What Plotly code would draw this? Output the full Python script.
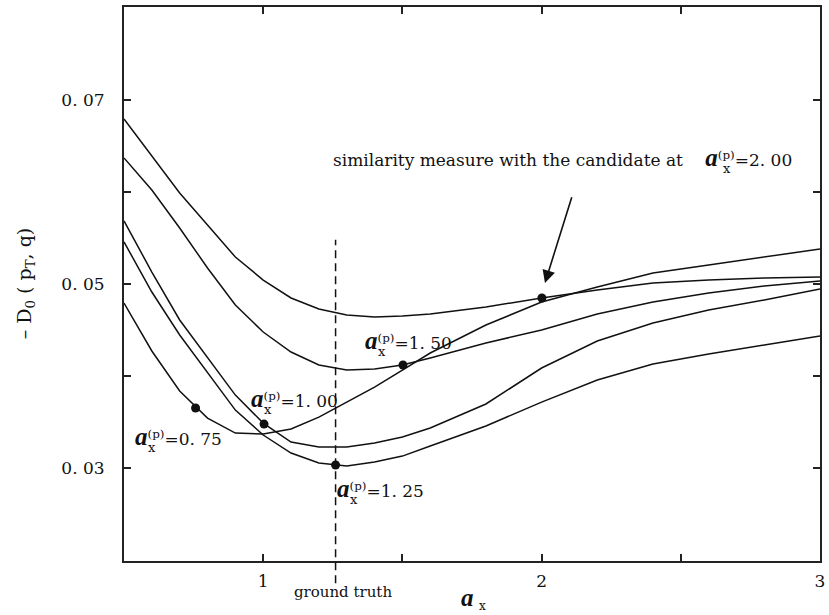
import plotly.graph_objects as go

# ---------------- data ----------------
a_x = [0.5, 0.6, 0.7, 0.8, 0.9, 1.0, 1.1, 1.2, 1.3, 1.4, 1.5, 1.6, 1.8, 2.0, 2.2, 2.4, 2.6, 2.8, 3.0]

d_075 = [0.04793, 0.04272, 0.03837, 0.03543, 0.03380, 0.03370, 0.03424, 0.03554, 0.03717, 0.03880,
         0.04065, 0.04250, 0.04554, 0.04804, 0.04967, 0.05120, 0.05207, 0.05293, 0.05380]
d_100 = [0.05685, 0.05130, 0.04609, 0.04207, 0.03793, 0.03489, 0.03283, 0.03228, 0.03228, 0.03272,
         0.03337, 0.03435, 0.03696, 0.04087, 0.04380, 0.04576, 0.04717, 0.04826, 0.04946]
d_125 = [0.05457, 0.04913, 0.04446, 0.04033, 0.03630, 0.03359, 0.03163, 0.03054, 0.03022, 0.03065,
         0.03130, 0.03239, 0.03457, 0.03717, 0.03957, 0.04130, 0.04239, 0.04337, 0.04435]
d_150 = [0.06370, 0.06022, 0.05609, 0.05174, 0.04772, 0.04478, 0.04261, 0.04120, 0.04065, 0.04076,
         0.04120, 0.04196, 0.04359, 0.04500, 0.04674, 0.04804, 0.04902, 0.04978, 0.05033]
d_200 = [0.06793, 0.06391, 0.05989, 0.05641, 0.05293, 0.05043, 0.04848, 0.04728, 0.04663, 0.04641,
         0.04652, 0.04674, 0.04750, 0.04848, 0.04935, 0.05011, 0.05043, 0.05065, 0.05076]

candidates = ["0. 75", "1. 00", "1. 25", "1. 50", "2. 00"]
dot_x = [0.757, 1.003, 1.26, 1.502, 2.001]
dot_y = [0.03652, 0.03478, 0.03033, 0.04120, 0.04848]

ground_truth_x = 1.26

x_tickvals = [1, 1.5, 2, 2.5, 3]
x_ticktext = ["1", "", "2", "", "3"]
y_tickvals = [0.03, 0.04, 0.05, 0.06, 0.07]
y_ticktext = ["0. 03", "", "0. 05", "", "0. 07"]

# ---------------- figure ----------------
SERIF = "DejaVu Serif"
INK = "#111111"
A_SPAN = "<span style='font-family:Liberation Serif;font-size:25px'><b><i>a</i></b></span>"

fig = go.Figure()
for ys in [d_075, d_100, d_125, d_150, d_200]:
    fig.add_trace(go.Scatter(x=a_x, y=ys, mode="lines",
                             line=dict(color=INK, width=1.5), showlegend=False,
                             hoverinfo="skip"))

fig.add_trace(go.Scatter(x=dot_x, y=dot_y, mode="markers",
                         marker=dict(color=INK, size=9), showlegend=False,
                         cliponaxis=False))

annos = []


def add_label(lx, ly, val, prefix="", a_offset=0):
    # main text: [prefix] a^(p)=val ; subscript x added as separate stacked text
    annos.append(dict(x=lx, y=ly, xref="x", yref="y",
                      text=prefix + A_SPAN + "<sup>(p)</sup>=" + val, showarrow=False,
                      xanchor="left", yanchor="middle",
                      font=dict(family=SERIF, size=17, color=INK)))
    annos.append(dict(x=lx, y=ly, xref="x", yref="y", text="x", showarrow=False,
                      xanchor="left", yanchor="middle", xshift=a_offset + 13, yshift=-11,
                      font=dict(family=SERIF, size=13, color=INK)))


label_pos = [  # (x, y) of left edge / vertical centre of each label
    (0.532, 0.03348),
    (0.949, 0.03761),
    (1.258, 0.02783),
    (1.359, 0.04391),
]
for (lx, ly), val in zip(label_pos, candidates[:4]):
    add_label(lx, ly, val)

add_label(1.242, 0.0637, candidates[4],
          prefix="similarity measure with the candidate at\u2002\u2002 ", a_offset=377)

annos.append(dict(x=2.012, y=0.0501, xref="x", yref="y", ax=2.110, ay=0.0596,
                  axref="x", ayref="y", text="", showarrow=True,
                  arrowhead=2, arrowsize=1.6, arrowwidth=1.6, arrowcolor=INK))

annos.append(dict(x=ground_truth_x + 0.028, y=-0.056, xref="x", yref="paper",
                  text="ground truth", showarrow=False, xanchor="center", yanchor="middle",
                  font=dict(family=SERIF, size=15, color=INK)))

annos.append(dict(x=1.734, y=-0.066, xref="x", yref="paper", text=A_SPAN,
                  showarrow=False, xanchor="center", yanchor="middle",
                  font=dict(family=SERIF, size=17, color=INK)))
annos.append(dict(x=1.734, y=-0.066, xref="x", yref="paper", text="x",
                  showarrow=False, xanchor="left", yanchor="middle", xshift=9, yshift=-8,
                  font=dict(family=SERIF, size=12, color=INK)))

annos.append(dict(x=-0.142, y=0.5, xref="paper", yref="paper", textangle=-90,
                  text="\u2013 D<sub>0</sub> ( p<sub>T</sub>, q)",
                  showarrow=False, xanchor="center", yanchor="middle",
                  font=dict(family=SERIF, size=19, color=INK)))

fig.add_shape(type="line", xref="x", yref="paper",
              x0=ground_truth_x, x1=ground_truth_x, y0=-0.040, y1=0.580,
              line=dict(color=INK, width=1.5, dash="8px,5px"))

axis_common = dict(showline=True, linecolor="#222222", linewidth=2, mirror="allticks",
                   ticks="inside", ticklen=7, tickwidth=1.5, tickcolor="#222222",
                   showgrid=False, zeroline=False,
                   tickfont=dict(family=SERIF, size=17, color=INK))

fig.update_xaxes(range=[0.5, 3.0], tickmode="array", tickvals=x_tickvals, ticktext=x_ticktext,
                 ticklabelstandoff=4, **axis_common)
fig.update_yaxes(range=[0.0199, 0.0801], tickmode="array", tickvals=y_tickvals, ticktext=y_ticktext,
                 ticklabelstandoff=14, **axis_common)

fig.update_layout(width=829, height=615, margin=dict(l=124, r=4, t=7, b=54),
                  plot_bgcolor="white", paper_bgcolor="white",
                  annotations=annos, showlegend=False)

fig.write_html("out.html")
